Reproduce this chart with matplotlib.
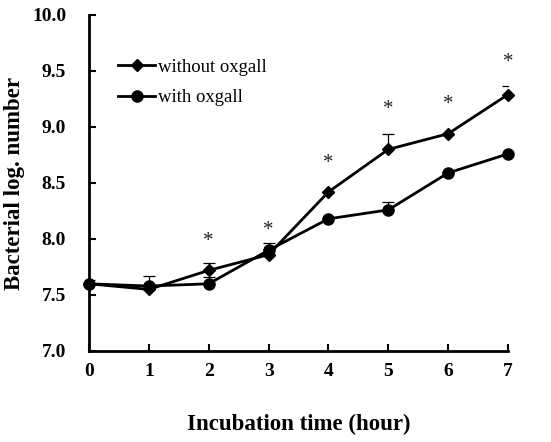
import matplotlib
matplotlib.use("Agg")
import matplotlib.pyplot as plt

hours = [0, 1, 2, 3, 4, 5, 6, 7]
without_oxgall = [7.60, 7.55, 7.72, 7.86, 8.42, 8.80, 8.94, 9.29]
without_err = [0.03, 0.0, 0.07, 0.0, 0.0, 0.14, 0.0, 0.08]
with_oxgall = [7.60, 7.58, 7.60, 7.90, 8.18, 8.26, 8.59, 8.76]
with_err = [0.0, 0.09, 0.06, 0.06, 0.0, 0.07, 0.0, 0.0]
star_hours = [2, 3, 4, 5, 6, 7]
star_y = [7.98, 8.08, 8.67, 9.16, 9.20, 9.58]
yticks = [7.0, 7.5, 8.0, 8.5, 9.0, 9.5, 10.0]

plt.rcParams['font.family'] = ['Liberation Serif', 'DejaVu Serif']

fig = plt.figure(figsize=(5.51, 4.42), dpi=100)
ax = fig.add_axes([89/551, 1 - 351/442, (508-89)/551, (351-15)/442])

ax.errorbar(hours, without_oxgall, yerr=[[0]*8, without_err], fmt='none',
            ecolor='black', elinewidth=0.9, capsize=4, capthick=0.9)
ax.errorbar(hours, with_oxgall, yerr=[[0]*8, with_err], fmt='none',
            ecolor='black', elinewidth=0.9, capsize=4, capthick=0.9)
ax.plot(hours, without_oxgall, color='black', lw=2, marker='D', ms=6.5,
        label='without oxgall', clip_on=False)
ax.plot(hours, with_oxgall, color='black', lw=2, marker='o', ms=8,
        label='with oxgall', clip_on=False)

for h, y in zip(star_hours, star_y):
    ax.text(h, y, '*', ha='center', va='center', fontsize=15, color='#222222')

ax.set_xlim(0, 7)
ax.set_ylim(7.0, 10.0)
ax.set_xticks(hours)
ax.set_xticklabels([str(h) for h in hours], fontweight='bold', fontsize=14)
ax.set_yticks(yticks)
ax.set_yticklabels([f'{v:.1f}' for v in yticks], fontweight='bold', fontsize=14)
ax.tick_params(direction='in', length=5, width=1.5)
ax.tick_params(axis='x', pad=9)
ax.tick_params(axis='y', pad=16.5)
for s in ['top', 'right']:
    ax.spines[s].set_visible(False)
for s in ['left', 'bottom']:
    ax.spines[s].set_linewidth(2)

ax.set_xlabel('Incubation time (hour)', fontweight='bold', fontsize=16.5, labelpad=24)
ax.set_ylabel('Bacterial log. number', fontweight='bold', fontsize=16.5, labelpad=5)

leg = ax.legend(loc='upper left', bbox_to_anchor=(0.03, 0.92), frameon=False,
                fontsize=13.5, handlelength=1.95, handletextpad=0.15, labelspacing=0.7)

fig.savefig('out.png', dpi=100)
